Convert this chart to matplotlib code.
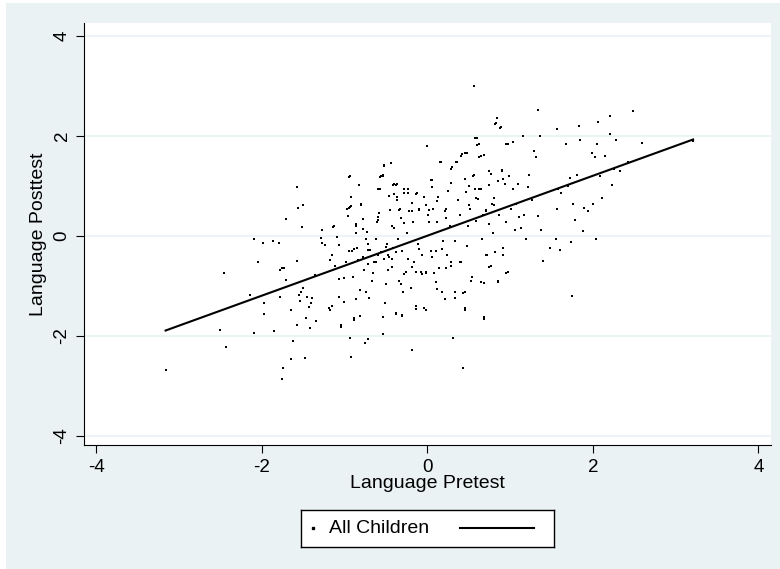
import matplotlib
matplotlib.use("Agg")
import matplotlib.pyplot as plt
from matplotlib.patches import Rectangle

# points (pretest, posttest)
pre = [-3.16, -2.43, -2.50, -2.45, -2.09, -2.14, -1.97, -1.97, -2.05, -2.09,
       -1.98, -1.86, -1.79, -1.85, -1.78, -1.76, -1.74, -1.78, -1.76, -1.73,
       -1.71, -1.71, -1.64, -1.62, -1.64, -1.57, -1.57, -1.56, -1.50, -1.51,
       -1.57, -1.54, -1.53, -1.55, -1.50, -1.48, -1.47, -1.45, -1.42, -1.41,
       -1.39, -1.43, -1.34, -1.35, -1.27, -1.28, -1.27, -1.23, -1.19, -1.18,
       -1.15, -1.18, -1.15, -1.13, -1.12, -1.09, -1.07, -1.06, -1.04, -1.01,
       -1.00, -0.98, -0.95, -0.95, -0.93, -0.92, -0.93, -0.92, -0.90, -0.88,
       -0.86, -0.86, -0.86, -0.88, -0.84, -0.83, -0.81, -0.80, -0.78, -0.77,
       -0.75, -0.74, -0.74, -0.72, -0.71, -0.70, -0.69, -0.67, -0.65, -0.64,
       -0.62, -0.61, -0.59, -0.59, -0.57, -0.56, -0.54, -0.53, -0.53, -0.52,
       -0.51, -0.50, -0.49, -0.48, -0.47, -0.44, -0.43, -0.42, -0.41, -0.40,
       -0.38, -0.37, -0.36, -0.35, -0.34, -0.33, -0.31, -0.30, -0.29, -0.28,
       -0.26, -0.24, -0.23, -0.22, -0.20, -0.19, -0.17, -0.16, -0.14, -0.12,
       -0.11, -0.10, -0.08, -0.06, -0.04, -0.02, 0.00, 0.01, 0.02, 0.04,
       0.06, 0.07, 0.08, 0.10, 0.12, 0.13, 0.14, 0.16, 0.18, 0.19,
       0.21, 0.23, 0.24, 0.25, 0.27, 0.29, 0.30, 0.31, 0.33, 0.34,
       0.36, 0.37, 0.39, 0.40, 0.42, 0.43, 0.45, 0.46, 0.48, 0.48,
       0.49, 0.51, 0.52, 0.54, 0.56, 0.57, 0.59, 0.60, 0.62, 0.63,
       0.65, 0.66, 0.68, 0.69, 0.71, 0.72, 0.74, 0.75, 0.77, 0.78,
       0.80, 0.81, 0.83, 0.84, 0.86, 0.87, 0.89, 0.90, 0.92, 0.94,
       0.95, 0.97, 0.98, 0.99, 1.01, 1.03, 1.04, 1.06, 1.07, 1.10,
       1.11, 1.13, 1.16, 1.17, 1.19, 1.22, 1.23, 1.27, 1.29, 1.31,
       1.34, 1.34, 1.36, 1.37, 1.40, 1.48, 1.55, 1.57, 1.57, 1.58,
       1.60, 1.61, 1.67, 1.70, 1.72, 1.73, 1.75, 1.76, 1.79, 1.81,
       1.83, 1.85, 1.88, 1.89, 1.94, 1.99, 2.00, 2.03, 2.04, 2.06,
       2.05, 2.09, 2.11, 2.15, 2.21, 2.21, 2.23, 2.26, 2.28, 2.33,
       2.43, 2.49, 2.59, 3.21,
       -1.06, -0.91, -0.85, -0.78, -0.72, -0.71, -0.62, -0.56, -0.52, -0.50,
       -0.46, -0.42, -0.38, -0.32, -0.28, -0.23, -0.18, -0.13, -0.10, -0.06,
       -0.01, 0.06, 0.10, 0.12, 0.18, 0.23, 0.29, 0.33, 0.41, 0.43,
       0.45, 0.53, 0.65, 0.68, 0.71, 0.75, 0.82, 0.85, 0.91, 0.95,
       -1.04, -0.88, -0.81, -0.38, -0.30, -0.14, -0.02,
       -0.52, -0.54, -0.57, -0.59, -0.95, -0.83, -0.92, -0.97, -0.93, -0.96,
       -0.80, -1.14, -0.86, -0.78, -0.73, -0.60, -0.58, -0.46, -0.41, -0.38,
       -0.40, -0.36, -0.45, -0.34, -0.32, -0.40, -0.28, -0.23, -0.18, -0.18,
       -0.28, -0.13, -0.10, -0.04, -0.02, 0.02, 0.04, 0.06, 0.12, 0.21,
       0.23, 0.15, 0.25, 0.29, 0.29, 0.35, 0.41, 0.45, 0.45, 0.37,
       0.47, 0.51, 0.55, 0.58, 0.63, 0.68, 0.65, 0.61, 0.71, 0.75,
       0.77, 0.81, 0.85, 0.90, 0.91, 0.95, 0.59, 0.67, 0.82, 0.88,
       0.58, 0.60]
post = [-2.69, -2.22, -1.89, -0.75, -1.94, -1.19, -1.57, -1.35, -0.52, -0.07,
        -0.15, -0.10, -0.15, -1.91, -1.23, -2.87, -2.64, -0.68, -0.64, -0.64,
        -0.89, 0.34, -1.49, -2.11, -2.46, 0.97, -0.50, 0.56, 0.62, 0.18,
        -1.78, -1.30, -1.12, -1.18, -1.05, -2.44, -1.65, -1.23, -1.85, -1.35,
        -1.25, -1.43, -1.71, -0.79, 0.12, -0.04, -0.15, -0.18, -1.45, -1.49,
        -1.40, -0.48, -0.39, 0.20, -0.61, -0.02, -0.86, -1.23, -1.78, -0.84,
        -1.33, -0.53, -0.31, 0.55, 1.20, 0.60, -2.04, -2.42, -0.83, -0.26,
        0.20, -1.26, 0.05, -1.65, -0.48, 1.02, -1.08, 0.64, 0.34, -0.68,
        -2.14, -1.12, -0.06, -0.57, -2.07, -1.25, -0.28, -0.90, -0.75, -0.53,
        -0.06, 0.27, 0.38, -0.39, 0.93, 1.19, 1.22, -1.96, -1.63, 1.41,
        -1.34, -0.97, -0.17, -0.39, -0.68, 1.46, 0.20, -0.46, -0.24, 1.04,
        -1.56, 1.04, 0.71, -0.06, -0.90, 0.53, -0.31, -1.58, -1.12, 0.93,
        -0.72, 0.05, 0.86, 0.49, -1.05, -2.29, 0.27, -0.53, -1.41, 0.86,
        -0.17, 0.53, -0.72, -0.39, -1.45, -0.72, 1.79, 0.42, 0.27, -0.31,
        1.11, 0.53, -0.75, -0.31, 0.27, 0.78, -0.64, 1.48, -1.12, -0.10,
        -1.26, 0.53, -0.39, 0.89, 0.20, -0.53, 1.37, -2.04, -1.12, -0.10,
        1.48, 0.71, 0.42, -0.53, 1.63, -2.64, -1.12, -1.45, 1.66, -0.20,
        0.20, 1.00, 0.53, -0.83, 1.22, 3.00, 0.75, 1.95, 1.84, 0.93,
        1.59, -0.06, -0.94, -1.63, 0.49, -0.39, 0.23, 1.30, -0.61, 0.64,
        0.05, 0.75, 2.25, 2.36, -0.90, 0.42, 2.17, 1.30, -0.24, 1.04,
        0.27, -0.72, 1.84, 1.19, 0.53, 0.93, 1.88, 0.12, 0.64, 1.04,
        0.38, 0.16, 1.99, 0.42, -0.06, 0.97, 1.22, 0.71, 1.70, 1.57,
        0.40, 2.52, 1.99, 0.12, -0.50, -0.24, -0.06, 0.53, 2.14, 0.93,
        -0.28, 0.86, 1.84, 1.00, 1.15, -0.13, -1.21, 0.64, 0.31, 1.22,
        2.19, 1.92, 0.09, 0.56, 0.49, 1.66, 0.64, 1.57, -0.06, 2.28,
        1.84, 1.19, 0.75, 1.60, 2.39, 2.04, 1.02, 1.33, 1.92, 1.30,
        1.48, 2.50, 1.86, 1.90,
        -0.19, -0.31, -0.24, -0.43, -0.29, -0.16, -0.53, -0.32, -0.46, -0.22,
        -0.43, -0.63, -0.32, -0.97, -0.77, -0.46, -0.63, -0.73, -0.26, -0.77,
        -0.75, -0.43, -0.92, -1.07, -0.26, -0.65, -0.60, -1.24, -0.53, -1.14,
        -1.48, -0.90, -0.93, -1.66, -0.39, -0.63, -0.32, -0.92, -0.39, -0.75,
        -1.83, -1.68, -1.61, -1.54, -1.60, -1.46, -1.49,
        1.40, 1.20, 1.18, 0.93, 1.18, 1.01, 0.78, 0.53, 0.57, 0.39,
        0.62, 0.18, 0.23, 0.14, 0.07, 0.32, 0.45, 0.79, 1.02, 1.02,
        0.84, 0.77, 0.52, 0.52, 0.35, 0.15, 0.86, 0.93, 0.66, 0.49,
        0.25, 0.83, 0.52, 0.78, 0.61, 0.52, 1.11, 0.97, 0.70, 0.49,
        0.35, 1.47, 0.89, 1.06, 1.33, 1.47, 1.60, 1.65, 1.13, 0.72,
        0.88, 0.62, 1.20, 0.93, 1.58, 1.62, 0.93, 0.74, 0.52, 1.02,
        1.23, 0.62, 1.10, 1.31, 1.14, 1.84, 0.30, 0.42, 2.23, 2.15,
        1.96, 1.82]

# fitted line end points
fit_x = [-3.16, 3.21]
fit_y = [-1.90, 1.92]

ticks = [-4, -2, 0, 2, 4]
bg = '#eaf2f3'

plt.rcParams['font.family'] = ['Liberation Sans', 'DejaVu Sans']
plt.rcParams['axes.unicode_minus'] = False

fig = plt.figure(figsize=(7.8, 5.69), dpi=100, facecolor='white')
# graph region, thin white edge on the left/top like the source image
fig.patches.append(Rectangle((6/780, 0), 1, 1 - 3/569, transform=fig.transFigure,
                             facecolor=bg, edgecolor='none', zorder=-10))

ax = fig.add_axes([0.1083, 0.2179, 0.880, 0.7408])
ax.set_facecolor('white')

for t in ticks:
    ax.axhline(t, color=bg, lw=1.2, zorder=0)

ax.scatter(pre, post, s=2.5, color='black', marker='s', linewidths=0, zorder=3)
ax.plot(fit_x, fit_y, color='black', lw=1.5, zorder=4)

ax.set_xlim(-4.14, 4.15)
ax.set_ylim(-4.19, 4.24)
ax.set_xticks(ticks)
ax.set_yticks(ticks)
ax.tick_params(labelsize=13.5, length=6, color='black', pad=4)
for lab in ax.get_yticklabels():
    lab.set_rotation(90)
    lab.set_va('center')
ax.spines['top'].set_visible(False)
ax.spines['right'].set_visible(False)
ax.set_xlabel('Language Pretest', fontsize=14, labelpad=-1)
ax.set_ylabel('Language Posttest', fontsize=14, labelpad=5)

# legend box drawn by hand: marker, label, then the line sample
lax = fig.add_axes([0.3859, 0.0392, 0.3244, 0.0645])
lax.set_xlim(0, 1)
lax.set_ylim(0, 1)
lax.set_xticks([])
lax.set_yticks([])
for sp in lax.spines.values():
    sp.set_linewidth(1.0)
    sp.set_color('black')
lax.plot([0.049], [0.5], ls='none', marker='s', ms=1.6, color='black')
lax.text(0.112, 0.5, 'All Children', fontsize=14, va='center', ha='left')
lax.plot([0.628, 0.921], [0.5, 0.5], color='black', lw=1.5)

fig.savefig('out.png', dpi=100, facecolor='white')
